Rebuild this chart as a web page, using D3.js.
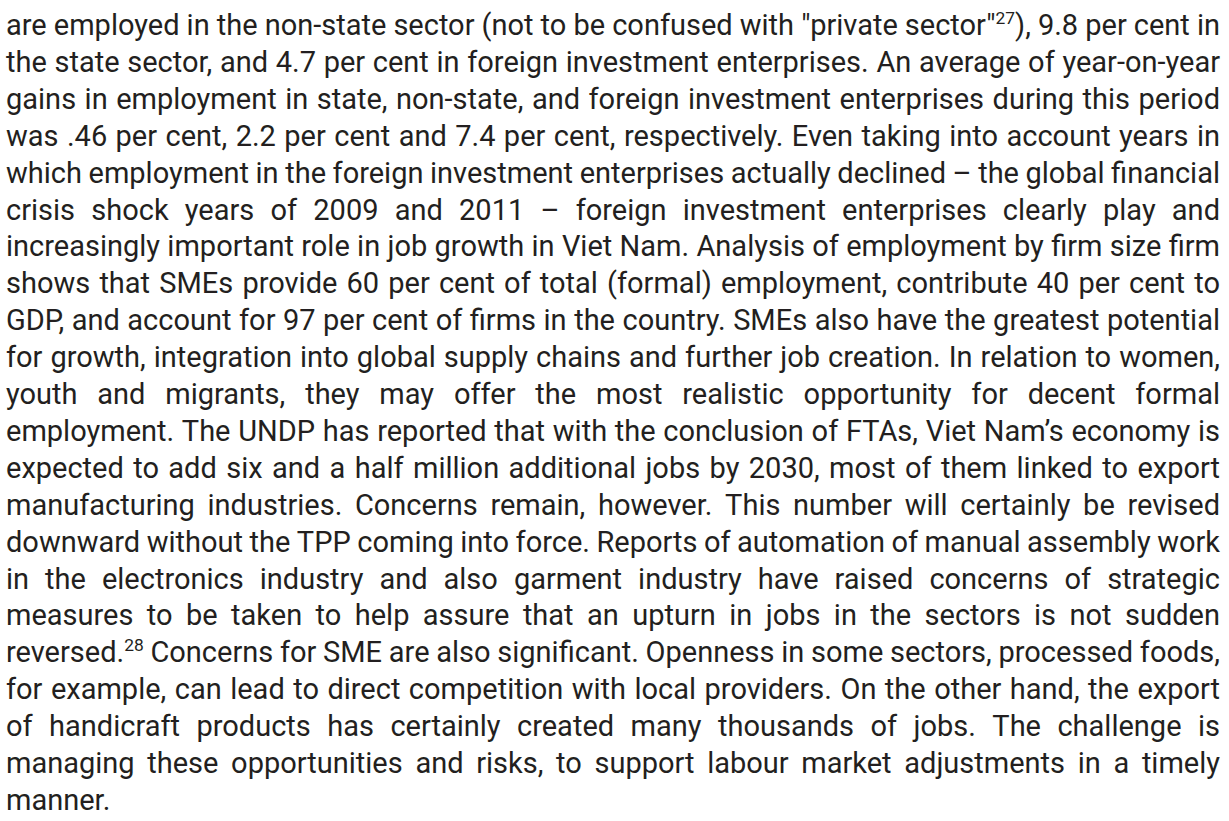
<!DOCTYPE html>
<html>
<head>
<meta charset="utf-8">
<script src="https://cdn.jsdelivr.net/npm/d3@7"></script>
<style>
  html, body { margin: 0; padding: 0; background: #fff; }
  svg { display: block; }
</style>
</head>
<body>
<svg class="page"></svg>
<script>
// paragraph lines, as broken in the source; {nn} marks a footnote superscript
const lines = [
  'are employed in the non-state sector (not to be confused with "private sector"{27}), 9.8 per cent in',
  'the state sector, and 4.7 per cent in foreign investment enterprises. An average of year-on-year',
  'gains in employment in state, non-state, and foreign investment enterprises during this period',
  'was .46 per cent, 2.2 per cent and 7.4 per cent, respectively. Even taking into account years in',
  'which employment in the foreign investment enterprises actually declined \u2013 the global financial',
  'crisis shock years of 2009 and 2011 \u2013 foreign investment enterprises clearly play and',
  'increasingly important role in job growth in Viet Nam. Analysis of employment by firm size firm',
  'shows that SMEs provide 60 per cent of total (formal) employment, contribute 40 per cent to',
  'GDP, and account for 97 per cent of firms in the country. SMEs also have the greatest potential',
  'for growth, integration into global supply chains and further job creation. In relation to women,',
  'youth and migrants, they may offer the most realistic opportunity for decent formal',
  'employment. The UNDP has reported that with the conclusion of FTAs, Viet Nam\u2019s economy is',
  'expected to add six and a half million additional jobs by 2030, most of them linked to export',
  'manufacturing industries. Concerns remain, however. This number will certainly be revised',
  'downward without the TPP coming into force. Reports of automation of manual assembly work',
  'in the electronics industry and also garment industry have raised concerns of strategic',
  'measures to be taken to help assure that an upturn in jobs in the sectors is not sudden',
  'reversed.{28} Concerns for SME are also significant. Openness in some sectors, processed foods,',
  'for example, can lead to direct competition with local providers. On the other hand, the export',
  'of handicraft products has certainly created many thousands of jobs. The challenge is',
  'managing these opportunities and risks, to support labour market adjustments in a timely',
  'manner.'
];

const width = 1229, height = 821;
const left = 6, right = 1220;
const fontSize = 29, lineHeight = 36.9, firstBaseline = 35;

const svg = d3.select('.page')
  .attr('width', width)
  .attr('height', height);

const y = d3.scaleLinear()
  .domain([0, 1])
  .range([firstBaseline, firstBaseline + lineHeight]);

const g = svg.append('g')
  .attr('font-family', 'Roboto, sans-serif')
  .attr('font-size', fontSize)
  .attr('fill', '#231f20');

// split a word into plain / superscript pieces
function pieces(word) {
  return word.split(/(\{\d+\})/).filter(s => s.length).map(s => {
    const m = s.match(/^\{(\d+)\}$/);
    return m ? {text: m[1], sup: true} : {text: s, sup: false};
  });
}

lines.forEach((line, i) => {
  const words = line.split(' ');
  const row = g.append('g').attr('class', 'line');

  const texts = row.selectAll('text')
    .data(words)
    .enter().append('text')
    .attr('y', y(i));

  texts.each(function(w) {
    const t = d3.select(this);
    pieces(w).forEach((p, k, arr) => {
      const ts = t.append('tspan').text(p.text);
      if (p.sup) {
        ts.attr('font-size', fontSize * 0.6).attr('dy', -fontSize * 0.38);
      } else if (k > 0 && arr[k - 1].sup) {
        ts.attr('dy', fontSize * 0.38);
      }
    });
  });

  const widths = [];
  texts.each(function() { widths.push(this.getComputedTextLength()); });
  const total = d3.sum(widths);
  const last = i === lines.length - 1;
  const space = fontSize * 0.248;
  const gap = (last || words.length < 2) ? space : (right - left - total) / (words.length - 1);

  let x = left;
  texts.attr('x', (d, k) => {
    const pos = x;
    x += widths[k] + gap;
    return pos;
  });
});
</script>
</body>
</html>
